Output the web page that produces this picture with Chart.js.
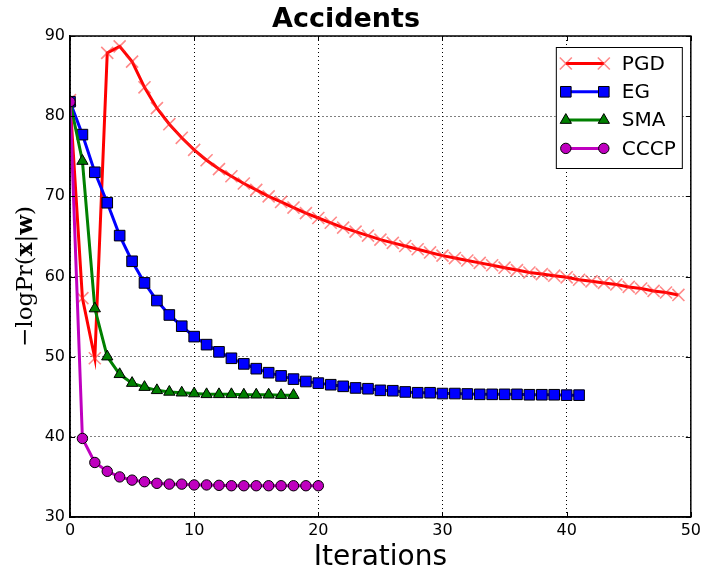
<!DOCTYPE html>
<html>
<head>
<meta charset="utf-8">
<script src="https://cdn.jsdelivr.net/npm/chart.js@4.4.0/dist/chart.umd.min.js"></script>
<style>
  body { margin: 0; background: #fff; }
</style>
</head>
<body>
<canvas id="chart" width="705" height="576"></canvas>
<script>
let xTicks = [0, 10, 20, 30, 40, 50];
let yTicks = [30, 40, 50, 60, 70, 80, 90];
let seriesNames = ["PGD", "EG", "SMA", "CCCP"];

let pgdLoss = [82.0, 57.3, 49.8, 87.9, 88.7, 86.8, 83.6, 81.0, 79.0, 77.3,
               75.8, 74.5, 73.4, 72.5, 71.6, 70.8, 70.0, 69.3, 68.6, 67.9,
               67.3, 66.7, 66.1, 65.6, 65.1, 64.6, 64.2, 63.8, 63.4, 63.0,
               62.6, 62.3, 62.0, 61.7, 61.4, 61.1, 60.8, 60.5, 60.3, 60.1,
               59.9, 59.6, 59.4, 59.2, 59.0, 58.7, 58.5, 58.2, 58.0, 57.7];
let egLoss = [81.8, 77.7, 73.0, 69.2, 65.1, 61.9, 59.2, 57.0, 55.2, 53.8,
              52.5, 51.5, 50.6, 49.8, 49.1, 48.5, 48.0, 47.6, 47.2, 46.9,
              46.7, 46.5, 46.3, 46.1, 46.0, 45.8, 45.75, 45.6, 45.5, 45.5,
              45.4, 45.4, 45.35, 45.3, 45.3, 45.3, 45.3, 45.25, 45.25, 45.25,
              45.2, 45.2];
let smaLoss = [81.8, 74.4, 56.0, 50.0, 47.8, 46.7, 46.2, 45.8, 45.6, 45.5,
               45.4, 45.3, 45.3, 45.3, 45.25, 45.25, 45.25, 45.2, 45.2];
let cccpLoss = [81.8, 39.8, 36.8, 35.7, 35.0, 34.6, 34.4, 34.2, 34.1, 34.1,
                34.0, 34.0, 33.95, 33.9, 33.9, 33.9, 33.9, 33.9, 33.9, 33.9,
                33.9];

function toPoints(arr) {
    let pts = [];
    arr.forEach((v, i) => pts.push({x: i, y: v}));
    return pts;
}

// small marker painter for the boxed legend
function marker(ctx, style, x, y, r, fill, stroke, bw) {
    ctx.beginPath();
    if (style === 'rect') {
        let s = r * Math.SQRT1_2;
        ctx.rect(x - s, y - s, 2 * s, 2 * s);
    } else if (style === 'triangle') {
        for (let k = 0; k < 3; k++) {
            let a = k * 2 * Math.PI / 3;
            let px = x + Math.sin(a) * r, py = y - Math.cos(a) * r;
            if (k === 0) ctx.moveTo(px, py); else ctx.lineTo(px, py);
        }
        ctx.closePath();
    } else if (style === 'circle') {
        ctx.arc(x, y, r, 0, Math.PI * 2);
    } else {
        let d = r * Math.SQRT1_2;
        ctx.moveTo(x - d, y - d); ctx.lineTo(x + d, y + d);
        ctx.moveTo(x + d, y - d); ctx.lineTo(x - d, y + d);
    }
    if (style !== 'crossRot') {
        ctx.fillStyle = fill;
        ctx.fill();
    }
    ctx.lineWidth = bw;
    ctx.strokeStyle = stroke;
    ctx.stroke();
}

const extras = {
    id: 'extras',
    afterDraw(chart) {
        const ctx = chart.ctx;
        const a = chart.chartArea;
        const xs = chart.scales.x, ys = chart.scales.y;
        ctx.save();

        // inward tick marks on all four sides
        ctx.strokeStyle = '#000';
        ctx.lineWidth = 1;
        xTicks.forEach(t => {
            let px = Math.round(xs.getPixelForValue(t)) + 0.5;
            ctx.beginPath();
            ctx.moveTo(px, a.bottom); ctx.lineTo(px, a.bottom - 5);
            ctx.moveTo(px, a.top); ctx.lineTo(px, a.top + 5);
            ctx.stroke();
        });
        yTicks.forEach(t => {
            let py = Math.round(ys.getPixelForValue(t)) + 0.5;
            ctx.beginPath();
            ctx.moveTo(a.left, py); ctx.lineTo(a.left + 5, py);
            ctx.moveTo(a.right, py); ctx.lineTo(a.right - 5, py);
            ctx.stroke();
        });

        // frame
        ctx.lineWidth = 1.5;
        ctx.strokeRect(a.left, a.top, a.right - a.left, a.bottom - a.top);

        // y axis label with bold vectors
        let parts = [
            {t: '\u2212logPr(', f: '23px "DejaVu Serif"'},
            {t: 'x', f: 'bold 23px "DejaVu Serif"'},
            {t: '|', f: '23px "DejaVu Serif"'},
            {t: 'w', f: 'bold 23px "DejaVu Serif"'},
            {t: ')', f: '23px "DejaVu Serif"'}
        ];
        let total = 0;
        parts.forEach(p => { ctx.font = p.f; p.w = ctx.measureText(p.t).width; total += p.w; });
        ctx.translate(26, (a.top + a.bottom) / 2);
        ctx.rotate(-Math.PI / 2);
        ctx.fillStyle = '#000';
        ctx.textBaseline = 'middle';
        ctx.textAlign = 'left';
        let cx = -total / 2;
        parts.forEach(p => { ctx.font = p.f; ctx.fillText(p.t, cx, 0); cx += p.w; });
        ctx.setTransform(1, 0, 0, 1, 0, 0);

        // legend box
        let bx = a.right - 135, by = a.top + 11, bw = 126, bh = 121;
        ctx.fillStyle = '#fff';
        ctx.fillRect(bx, by, bw, bh);
        ctx.strokeStyle = '#000';
        ctx.lineWidth = 1;
        ctx.strokeRect(bx + 0.5, by + 0.5, bw, bh);
        chart.data.datasets.forEach((ds, i) => {
            let ly = by + 16.5 + i * 28.3;
            let x0 = bx + 10, x1 = bx + 48;
            ctx.beginPath();
            ctx.moveTo(x0, ly); ctx.lineTo(x1, ly);
            ctx.strokeStyle = ds.borderColor;
            ctx.lineWidth = ds.borderWidth;
            ctx.stroke();
            [x0, x1].forEach(mx => marker(ctx, ds.pointStyle, mx, ly, ds.pointRadius,
                ds.pointBackgroundColor, ds.pointBorderColor, ds.pointBorderWidth));
            ctx.fillStyle = '#000';
            ctx.font = '20px "DejaVu Sans"';
            ctx.textBaseline = 'middle';
            ctx.textAlign = 'left';
            ctx.fillText(ds.label, bx + 66, ly + 1);
        });
        ctx.restore();
    }
};

Chart.defaults.font.family = '"DejaVu Sans"';
Chart.defaults.color = '#000';

let ctx = document.getElementById('chart');
let chart = new Chart(ctx, {
    type: 'line',
    data: {
        datasets: [{
            label: seriesNames[0],
            data: toPoints(pgdLoss),
            borderColor: '#ff0000',
            borderWidth: 3,
            pointStyle: 'crossRot',
            pointRadius: 8.5,
            pointBackgroundColor: 'rgba(255,0,0,0.5)',
            pointBorderColor: 'rgba(255,40,40,0.55)',
            pointBorderWidth: 1.6,
            order: 4,
            clip: 0
        }, {
            label: seriesNames[1],
            data: toPoints(egLoss),
            borderColor: '#0000ff',
            borderWidth: 3,
            pointStyle: 'rect',
            pointRadius: 7.5,
            pointBackgroundColor: '#0000ff',
            pointBorderColor: '#000',
            pointBorderWidth: 1,
            order: 3,
            clip: 0
        }, {
            label: seriesNames[2],
            data: toPoints(smaLoss),
            borderColor: '#008000',
            borderWidth: 3,
            pointStyle: 'triangle',
            pointRadius: 6.5,
            pointBackgroundColor: '#008000',
            pointBorderColor: '#000',
            pointBorderWidth: 1,
            order: 2,
            clip: 0
        }, {
            label: seriesNames[3],
            data: toPoints(cccpLoss),
            borderColor: '#bf00bf',
            borderWidth: 3,
            pointStyle: 'circle',
            pointRadius: 5.2,
            pointBackgroundColor: '#bf00bf',
            pointBorderColor: '#000',
            pointBorderWidth: 1,
            order: 1,
            clip: 0
        }]
    },
    options: {
        responsive: false,
        animation: false,
        layout: { padding: { left: 0, right: 13, top: 0, bottom: 0 } },
        plugins: {
            legend: { display: false },
            tooltip: { enabled: false },
            title: {
                display: true,
                text: 'Accidents',
                font: { size: 27, weight: 'bold' },
                padding: { top: 3.6, bottom: 0 }
            }
        },
        elements: { line: { tension: 0 } },
        scales: {
            x: {
                type: 'linear',
                min: 0, max: 50,
                afterFit(s) { s.height = 59; },
                ticks: { stepSize: 10, padding: 4, font: { size: 16 }, maxRotation: 0 },
                grid: { color: '#000', lineWidth: 1, drawTicks: false },
                border: { display: true, color: '#000', width: 1.5, dash: [1, 3] },
                title: {
                    display: true,
                    text: 'Iterations',
                    font: { size: 28 },
                    padding: { top: 0, bottom: 1 }
                }
            },
            y: {
                min: 30, max: 90,
                afterFit(s) { s.width = 70; },
                ticks: { stepSize: 10, padding: 5, font: { size: 16 } },
                grid: { color: '#000', lineWidth: 1, drawTicks: false },
                border: { display: true, color: '#000', width: 1.5, dash: [1, 3] }
            }
        }
    },
    plugins: [extras]
});
</script>
</body>
</html>
